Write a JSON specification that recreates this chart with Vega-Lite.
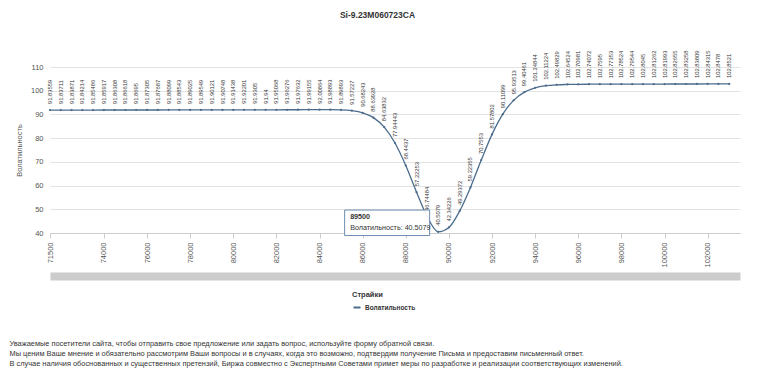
{
  "$schema": "https://vega.github.io/schema/vega-lite/v6.json",
  "width": 690,
  "height": 166,
  "padding": {"left": 9, "top": 10, "right": 10, "bottom": 5},
  "background": "white",
  "title": {
    "text": [
      "Уважаемые посетители сайта, чтобы отправить свое предложение или задать вопрос, используйте форму обратной связи.",
      "Мы ценим Ваше мнение и обязательно рассмотрим Ваши вопросы и в случаях, когда это возможно, подтвердим получение Письма и предоставим письменный ответ.",
      "В случае наличия обоснованных и существенных претензий, Биржа совместно с Экспертными Советами примет меры по разработке и реализации соответствующих изменений."
    ],
    "orient": "bottom",
    "anchor": "start",
    "dx": -6,
    "offset": 28,
    "fontSize": 7.4,
    "fontWeight": "normal",
    "font": "Liberation Sans",
    "color": "#333333",
    "lineHeight": 10
  },
  "data": {
    "values": [
      {"strike": 71500, "vol": 91.83559},
      {"strike": 72000, "vol": 91.83711},
      {"strike": 72500, "vol": 91.83871},
      {"strike": 73000, "vol": 91.84214},
      {"strike": 73500, "vol": 91.85486},
      {"strike": 74000, "vol": 91.85917},
      {"strike": 74500, "vol": 91.86308},
      {"strike": 75000, "vol": 91.86618},
      {"strike": 75500, "vol": 91.8695},
      {"strike": 76000, "vol": 91.87305},
      {"strike": 76500, "vol": 91.87687},
      {"strike": 77000, "vol": 91.88099},
      {"strike": 77500, "vol": 91.88543},
      {"strike": 78000, "vol": 91.89025},
      {"strike": 78500, "vol": 91.89549},
      {"strike": 79000, "vol": 91.90121},
      {"strike": 79500, "vol": 91.90748},
      {"strike": 80000, "vol": 91.91438},
      {"strike": 80500, "vol": 91.92201},
      {"strike": 81000, "vol": 91.9305},
      {"strike": 81500, "vol": 91.94},
      {"strike": 82000, "vol": 91.95068},
      {"strike": 82500, "vol": 91.96276},
      {"strike": 83000, "vol": 91.97632},
      {"strike": 83500, "vol": 91.99155},
      {"strike": 84000, "vol": 92.00864},
      {"strike": 84500, "vol": 91.98893},
      {"strike": 85000, "vol": 91.89893},
      {"strike": 85500, "vol": 91.57227},
      {"strike": 86000, "vol": 90.68243},
      {"strike": 86500, "vol": 88.63928},
      {"strike": 87000, "vol": 84.63832},
      {"strike": 87500, "vol": 77.94443},
      {"strike": 88000, "vol": 68.4437},
      {"strike": 88500, "vol": 57.22253},
      {"strike": 89000, "vol": 46.74484},
      {"strike": 89500, "vol": 40.5079},
      {"strike": 90000, "vol": 42.34226},
      {"strike": 90500, "vol": 49.29372},
      {"strike": 91000, "vol": 59.22355},
      {"strike": 91500, "vol": 70.7553},
      {"strike": 92000, "vol": 81.57802},
      {"strike": 92500, "vol": 90.11099},
      {"strike": 93000, "vol": 95.93513},
      {"strike": 93500, "vol": 99.40461},
      {"strike": 94000, "vol": 101.24844},
      {"strike": 94500, "vol": 102.11224},
      {"strike": 95000, "vol": 102.49829},
      {"strike": 95500, "vol": 102.64524},
      {"strike": 96000, "vol": 102.70981},
      {"strike": 96500, "vol": 102.74072},
      {"strike": 97000, "vol": 102.7595},
      {"strike": 97500, "vol": 102.77353},
      {"strike": 98000, "vol": 102.78524},
      {"strike": 98500, "vol": 102.79544},
      {"strike": 99000, "vol": 102.8045},
      {"strike": 99500, "vol": 102.81262},
      {"strike": 100000, "vol": 102.81993},
      {"strike": 100500, "vol": 102.82655},
      {"strike": 101000, "vol": 102.83258},
      {"strike": 101500, "vol": 102.83809},
      {"strike": 102000, "vol": 102.84315},
      {"strike": 102500, "vol": 102.8478},
      {"strike": 103000, "vol": 102.8521}
    ]
  },
  "encoding": {
    "y": {
      "field": "vol", "type": "quantitative",
      "scale": {"domain": [40, 110], "nice": false, "zero": false},
      "axis": {
        "values": [40, 50, 60, 70, 80, 90, 100, 110],
        "labelOverlap": false,
        "title": "Волатильность",
        "titleFontSize": 7.5,
        "titleFontWeight": "normal",
        "titleColor": "#555555",
        "titleFont": "Liberation Sans",
        "titlePadding": 7,
        "labelFontSize": 7.5,
        "labelColor": "#555555",
        "labelFont": "Liberation Sans",
        "labelPadding": 7,
        "ticks": false,
        "domain": false,
        "gridColor": "#e3e3e3"
      }
    }
  },
  "layer": [
    {
      "mark": {"type": "line", "strokeWidth": 1.3, "interpolate": "monotone"},
      "encoding": {
        "x": {
          "field": "strike", "type": "quantitative",
          "scale": {"domain": [71500, 103500], "nice": false, "zero": false},
          "axis": {
            "values": [71500, 74000, 76000, 78000, 80000, 82000, 84000, 86000, 88000, 90000, 92000, 94000, 96000, 98000, 100000, 102000],
            "format": "d",
            "labelAngle": -90,
            "labelFontSize": 7.5,
            "labelColor": "#555555",
            "labelFont": "Liberation Sans",
            "labelPadding": 4,
            "labelOverlap": false,
            "tickSize": 5,
            "tickColor": "#cccccc",
            "domainColor": "#cccccc",
            "grid": false,
            "title": null
          }
        },
        "color": {
          "datum": "Волатильность",
          "scale": {"range": ["#4b6c8c"]},
          "legend": {
            "orient": "none",
            "legendX": 302,
            "legendY": 224,
            "title": "Страйки",
            "titleFontSize": 7.5,
            "titleFontWeight": "bold",
            "titleColor": "#333333",
            "titleFont": "Liberation Sans",
            "titlePadding": 4,
            "labelFontSize": 6.5,
            "labelFontWeight": "bold",
            "labelColor": "#333333",
            "labelFont": "Liberation Sans",
            "labelOffset": 3,
            "symbolType": "stroke",
            "symbolStrokeWidth": 2,
            "symbolSize": 50
          }
        }
      }
    },
    {
      "mark": {"type": "point", "filled": true, "size": 5, "color": "#4b6c8c", "opacity": 1},
      "encoding": {
        "x": {"field": "strike", "type": "quantitative", "axis": null}
      }
    },
    {
      "mark": {"type": "text", "angle": -90, "align": "left", "baseline": "middle", "dx": 6, "fontSize": 5.8, "font": "Liberation Sans", "color": "#333333"},
      "encoding": {
        "x": {
          "field": "strike", "type": "quantitative",
          "axis": {
            "orient": "bottom",
            "offset": 43,
            "domain": true,
            "domainWidth": 8,
            "domainColor": "#cccccc",
            "labels": false,
            "ticks": false,
            "grid": false,
            "title": null
          }
        },
        "text": {"field": "vol", "type": "quantitative", "format": ""}
      }
    },
    {
      "transform": [{"filter": "datum.strike == 89500"}],
      "mark": {
        "type": "point",
        "shape": "M-1,-0.3H1V0.3H-1Z",
        "size": 7225,
        "filled": true,
        "fill": "white",
        "fillOpacity": 0.92,
        "stroke": "#6d8db0",
        "strokeWidth": 1,
        "xOffset": -51,
        "yOffset": -9
      },
      "encoding": {
        "x": {
          "field": "strike", "type": "quantitative",
          "axis": {
            "orient": "top",
            "title": "Si-9.23M060723CA",
            "titleFontSize": 8.5,
            "titleFontWeight": "bold",
            "titleColor": "#333333",
            "titleFont": "Liberation Sans",
            "titlePadding": 48,
            "titleX": 327,
            "labels": false,
            "ticks": false,
            "domain": false,
            "grid": false
          }
        }
      }
    },
    {
      "transform": [{"filter": "datum.strike == 89500"}],
      "mark": {"type": "text", "align": "left", "baseline": "middle", "dx": -88, "dy": -15, "fontSize": 7.2, "fontWeight": "bold", "font": "Liberation Sans", "color": "#333333"},
      "encoding": {
        "x": {"field": "strike", "type": "quantitative", "axis": null},
        "text": {"field": "strike", "type": "quantitative", "format": "d"}
      }
    },
    {
      "transform": [{"filter": "datum.strike == 89500"}],
      "mark": {"type": "text", "align": "left", "baseline": "middle", "dx": -88, "dy": -4, "fontSize": 7.2, "font": "Liberation Sans", "color": "#333333"},
      "encoding": {
        "x": {"field": "strike", "type": "quantitative", "axis": null},
        "text": {"value": "Волатильность: 40.5079"}
      }
    }
  ],
  "resolve": {"axis": {"x": "independent"}},
  "config": {"view": {"stroke": null}}
}
